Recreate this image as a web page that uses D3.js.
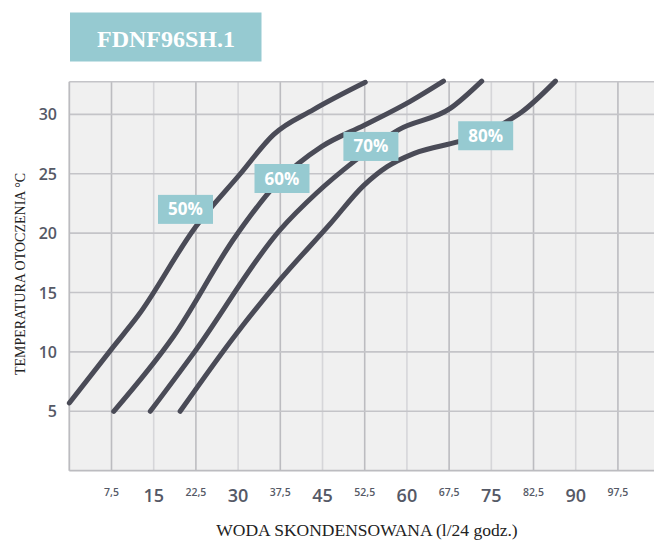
<!DOCTYPE html>
<html><head><meta charset="utf-8">
<script src="https://cdn.jsdelivr.net/npm/d3@7"></script>
<style>body{margin:0;background:#fff}svg{display:block}</style>
</head><body>
<script>
const title = "FDNF96SH.1";
const xTitle = "WODA SKONDENSOWANA (l/24 godz.)";
const yTitle = "TEMPERATURA OTOCZENIA °C";
const xTicks = [7.5,15,22.5,30,37.5,45,52.5,60,67.5,75,82.5,90,97.5];
const yTicks = [5,10,15,20,25,30];
const series = ["50%","60%","70%","80%"];
const s50 = [[0,5.7],[7.6,10.3],[12.3,13.1],[22.4,20.5],[30.4,25.0],[36.3,28.3],[43.4,30.4],[52.6,32.7]];
const s60 = [[7.9,5.0],[18.5,11.3],[29.5,19.7],[36.9,24.2],[44.9,27.3],[52.5,29.1],[60.6,31.1],[66.5,32.8]];
const s70 = [[14.4,5.0],[22.1,9.9],[37.5,20.3],[44.0,23.4],[50.5,26.0],[58.5,28.7],[67.7,30.5],[73.3,32.8]];
const s80 = [[19.7,5.0],[29.8,11.6],[37.5,16.1],[46.4,20.8],[52.3,24.0],[56.5,25.6],[61.2,26.7],[69.2,27.7],[73.5,28.3],[77.8,29.4],[80.4,30.2],[86.4,32.8]];
const labelPos = [[20.65,22.0],[37.8,24.6],[53.6,27.3],[74.0,28.2]];

const W=654,H=542;
const svg=d3.select("body").append("svg").attr("width",W).attr("height",H);
const x=d3.scaleLinear().domain([0,104]).range([69.3,654.5]);
const y=d3.scaleLinear().domain([0,32.75]).range([470.7,81.7]);

// title box
svg.append("rect").attr("x",70).attr("y",12.5).attr("width",191.5).attr("height",49).attr("fill","#96cad1");
svg.append("text").attr("x",166).attr("y",47).attr("text-anchor","middle")
  .attr("font-family","'Liberation Serif',serif").attr("font-weight","bold")
  .attr("font-size",24).attr("fill","#fff").text(title);

// plot background
svg.append("rect").attr("x",x(0)).attr("y",y(32.75)).attr("width",W-x(0)).attr("height",y(0)-y(32.75)).attr("fill","#f0f0f0");

// grid
const gx=svg.append("g");
gx.selectAll("line.v").data(xTicks).join("line")
  .attr("x1",d=>x(d)).attr("x2",d=>x(d)).attr("y1",y(32.75)).attr("y2",y(0))
  .attr("stroke",(d,i)=>i%2===0?"#bcbcc0":"#d6d6d9").attr("stroke-width",1.6);
gx.selectAll("line.h").data(yTicks.concat([32.75])).join("line")
  .attr("x1",x(0)).attr("x2",W).attr("y1",d=>y(d)).attr("y2",d=>y(d))
  .attr("stroke","#c4c4c8").attr("stroke-width",1.6);
gx.append("line").attr("x1",x(0)).attr("x2",x(0)).attr("y1",y(32.75)).attr("y2",y(0)).attr("stroke","#bcbcc0").attr("stroke-width",1.8);
gx.append("line").attr("x1",x(0)).attr("x2",W).attr("y1",y(0)).attr("y2",y(0)).attr("stroke","#bcbcc0").attr("stroke-width",1.8);

// y tick labels
svg.selectAll("text.yt").data(yTicks).join("text")
  .attr("x",57).attr("y",d=>y(d)+6).attr("text-anchor","end")
  .attr("font-family","'Open Sans',sans-serif").attr("font-weight",600).attr("font-size",16)
  .attr("fill","#555966").text(d=>d);

// x tick labels
svg.selectAll("text.xt").data(xTicks).join("text")
  .attr("x",d=>x(d)).attr("y",(d,i)=>i%2===0?496:502).attr("text-anchor","middle")
  .attr("font-family","'Open Sans',sans-serif").attr("font-weight",600)
  .attr("font-size",(d,i)=>i%2===0?10.5:18)
  .attr("fill","#555966").text(d=>String(d).replace(".",","));

// axis titles
svg.append("text").attr("x",367).attr("y",536).attr("text-anchor","middle")
  .attr("font-family","'Liberation Serif',serif").attr("font-size",17.5).attr("fill","#222")
  .text(xTitle);
svg.append("text").attr("transform","translate(25,274) rotate(-90)").attr("text-anchor","middle")
  .attr("font-family","'Liberation Serif',serif").attr("font-size",14).attr("fill","#222")
  .text(yTitle);

// curves
const line=d3.line().x(d=>x(d[0])).y(d=>y(d[1])).curve(d3.curveMonotoneX);
svg.selectAll("path.c").data([s50,s60,s70,s80]).join("path")
  .attr("d",line).attr("fill","none").attr("stroke","#4a4b57").attr("stroke-width",5)
  .attr("stroke-linecap","round").attr("stroke-linejoin","round");

// labels
const lg=svg.selectAll("g.lab").data(series).join("g")
  .attr("transform",(d,i)=>`translate(${x(labelPos[i][0])},${y(labelPos[i][1])})`);
lg.append("rect").attr("x",-27.5).attr("y",-14.5).attr("width",55).attr("height",29).attr("fill","#96cad1");
lg.append("text").attr("y",6).attr("text-anchor","middle")
  .attr("font-family","'Open Sans',sans-serif").attr("font-weight",700).attr("font-size",17)
  .attr("fill","#fff").text(d=>d);
</script>
</body></html>
